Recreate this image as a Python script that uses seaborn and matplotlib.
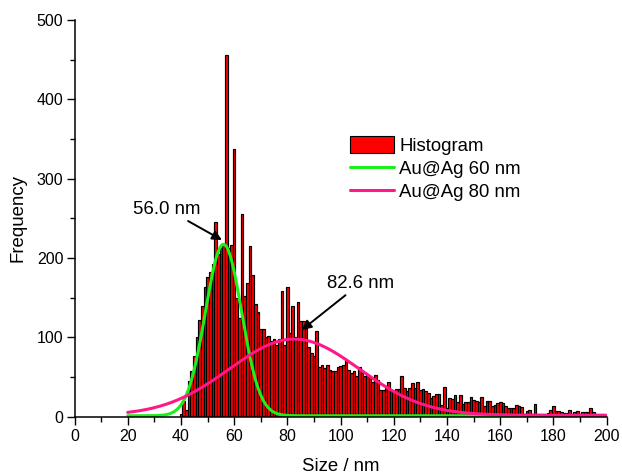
import numpy as np
import matplotlib
matplotlib.use("Agg")
import matplotlib.pyplot as plt
import seaborn as sns
from matplotlib.ticker import MultipleLocator
from matplotlib.patches import Patch
from matplotlib.lines import Line2D

# histogram: 1 nm bins, centres 40..199
sizes = np.arange(40, 200)
counts = [
    3, 20, 8, 45, 57, 76, 101, 122, 139, 164,          # 40-49
    176, 183, 193, 245, 205, 212, 218, 456, 212, 216,  # 50-59
    337, 149, 124, 255, 152, 168, 215, 178, 142, 132,  # 60-69
    111, 110, 100, 102, 95, 98, 90, 98, 158, 90,       # 70-79
    164, 105, 140, 101, 145, 121, 120, 115, 88, 80,    # 80-89
    76, 108, 63, 65, 61, 65, 59, 57, 57, 63,           # 90-99
    64, 65, 71, 59, 55, 57, 51, 63, 55, 51,            # 100-109
    53, 51, 44, 53, 46, 34, 34, 36, 44, 33,            # 110-119
    32, 35, 35, 51, 36, 32, 36, 42, 36, 44,            # 120-129
    34, 35, 32, 30, 24, 26, 29, 29, 15, 38,            # 130-139
    11, 24, 22, 27, 18, 27, 16, 18, 19, 25,            # 140-149
    21, 20, 18, 25, 13, 20, 20, 13, 15, 17,            # 150-159
    18, 17, 13, 11, 11, 11, 15, 13, 12, 4,             # 160-169
    7, 9, 4, 16, 4, 3, 3, 4, 5, 9,                     # 170-179
    13, 7, 7, 6, 5, 5, 8, 3, 6, 7,                     # 180-189
    3, 6, 6, 6, 11, 6, 4, 3, 3, 3,                     # 190-199
]

# gaussian fit parameters (offset, height, centre, sigma)
fit_60 = dict(y0=1.2, h=216, xc=56.0, s=6.8)
fit_80 = dict(y0=1.8, h=96, xc=82.6, s=24.5)
fit_x = np.linspace(20, 200, 721)

def gauss(x, y0, h, xc, s):
    return y0 + h * np.exp(-(x - xc) ** 2 / (2 * s ** 2))

green = '#1CF01C'
pink = '#FF1888'

sns.set_style('ticks')
plt.rcParams['font.family'] = ['Liberation Sans', 'DejaVu Sans']
plt.rcParams['text.color'] = 'black'
plt.rcParams['axes.labelcolor'] = 'black'
plt.rcParams['xtick.color'] = 'black'
plt.rcParams['ytick.color'] = 'black'

fig = plt.figure(figsize=(6.22, 4.74), dpi=100)
ax = fig.add_axes([74.5 / 622, 1 - 416.7 / 474, (606.7 - 74.5) / 622, (416.7 - 20) / 474])

sns.histplot(x=sizes, weights=counts, discrete=True, color='red', edgecolor='black',
             linewidth=0.85, alpha=1, ax=ax)
sns.lineplot(x=fit_x, y=gauss(fit_x, **fit_60), color=green, lw=2.2, ax=ax)
sns.lineplot(x=fit_x, y=gauss(fit_x, **fit_80), color=pink, lw=2.2, ax=ax)

ax.set_xlim(0, 200)
ax.set_ylim(0, 500)
ax.xaxis.set_major_locator(MultipleLocator(20))
ax.xaxis.set_minor_locator(MultipleLocator(10))
ax.yaxis.set_major_locator(MultipleLocator(100))
ax.yaxis.set_minor_locator(MultipleLocator(50))
ax.tick_params(which='major', length=6, width=1.0, labelsize=11.5)
ax.tick_params(which='minor', length=3.5, width=1.0)
ax.tick_params(axis='x', which='major', pad=3)
ax.tick_params(axis='y', which='major', pad=2)
sns.despine(ax=ax)
for sp in ('left', 'bottom'):
    ax.spines[sp].set_linewidth(1.1)
    ax.spines[sp].set_color('black')

ax.set_xlabel('Size / nm', fontsize=13.4, labelpad=10)
ax.set_ylabel('Frequency', fontsize=13.4, labelpad=7)

arrow = dict(arrowstyle='-|>', color='black', lw=1.4, mutation_scale=14, shrinkA=0, shrinkB=0)
ax.annotate('56.0 nm', xy=(55.4, 222.7), xytext=(34.8, 261.5), fontsize=13.4,
            ha='center', va='center', arrowprops=arrow)
ax.annotate('82.6 nm', xy=(85.4, 109.3), xytext=(94.8, 168), fontsize=13.4,
            ha='left', va='center', arrowprops=arrow)

handles = [
    Patch(facecolor='red', edgecolor='black', linewidth=0.8),
    Line2D([0], [0], color=green, lw=2.2),
    Line2D([0], [0], color=pink, lw=2.2),
]
labels = ['Histogram', 'Au@Ag 60 nm', 'Au@Ag 80 nm']
ax.legend(handles, labels, loc='upper left', bbox_to_anchor=(350 / 622, 1 - 136 / 474),
          bbox_transform=fig.transFigure, frameon=False, fontsize=13.4, borderpad=0,
          handlelength=2.35, handleheight=1.0, handletextpad=0.3, labelspacing=0.25,
          borderaxespad=0)

fig.savefig('out.png', dpi=100)
